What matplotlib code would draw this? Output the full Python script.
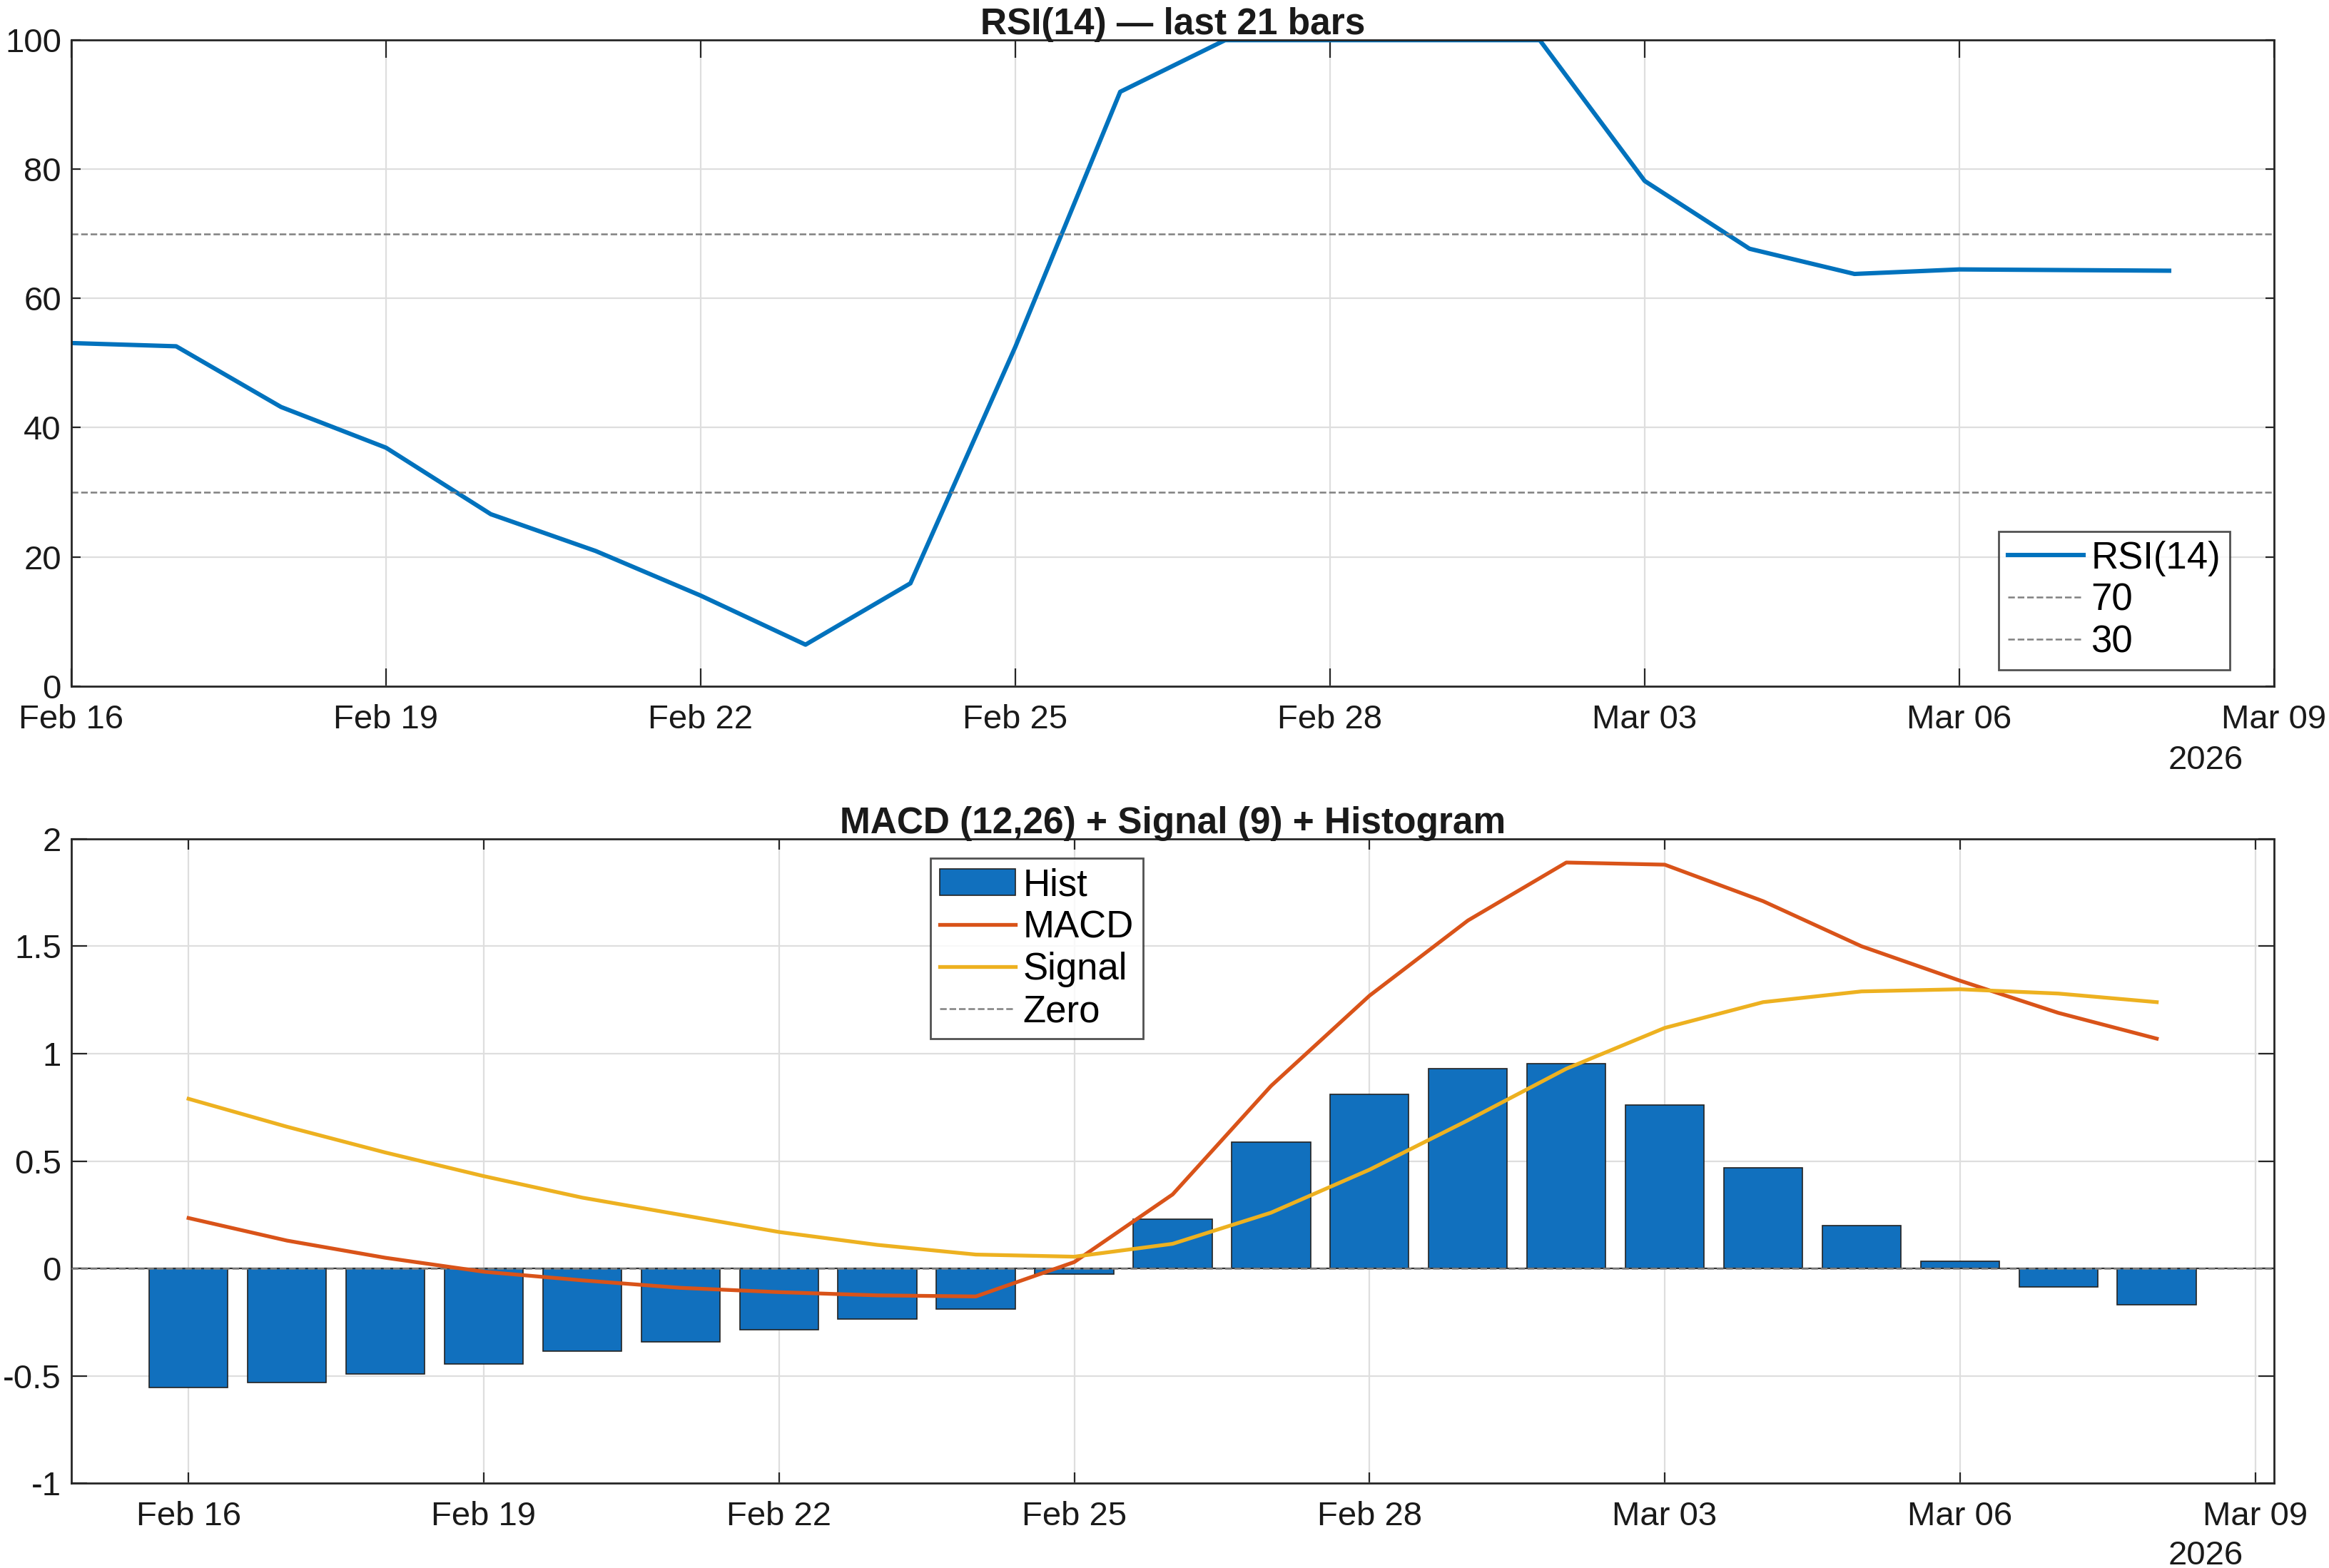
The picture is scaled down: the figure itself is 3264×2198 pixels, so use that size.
import pandas as pd
import matplotlib
matplotlib.use("Agg")
import matplotlib.pyplot as plt
import matplotlib.dates as mdates
from matplotlib.ticker import FuncFormatter

plt.rcParams['font.family'] = ['Liberation Sans', 'DejaVu Sans']
plt.rcParams['axes.unicode_minus'] = False

# ---- data ----
dates = pd.date_range('2026-02-16', '2026-03-08', freq='D')

rsi = [53.1, 52.6, 43.2, 36.9, 26.6, 20.9, 14.0, 6.4, 15.9, 52.5, 92.0,
       100.0, 100.0, 100.0, 100.0, 78.2, 67.7, 63.8, 64.5, 64.4, 64.3]

macd = [0.235, 0.13, 0.05, -0.015, -0.055, -0.09, -0.11, -0.125, -0.13, 0.03, 0.345,
        0.85, 1.27, 1.62, 1.89, 1.88, 1.71, 1.50, 1.34, 1.19, 1.07]
signal = [0.79, 0.66, 0.54, 0.43, 0.33, 0.25, 0.17, 0.11, 0.065, 0.055, 0.115,
          0.26, 0.46, 0.69, 0.93, 1.12, 1.24, 1.29, 1.30, 1.28, 1.24]
hist = [-0.555, -0.53, -0.49, -0.445, -0.385, -0.34, -0.285, -0.235, -0.19, -0.025, 0.23,
        0.59, 0.81, 0.93, 0.955, 0.76, 0.47, 0.20, 0.035, -0.085, -0.17]

BLUE = '#0072BD'
ORANGE = '#D95319'
YELLOW = '#EDB120'
GRAY = '#808080'
AXC = '#262626'
TXT = '#1a1a1a'

fig = plt.figure(figsize=(16.32, 10.99), dpi=200)
ax1 = fig.add_axes([0.0306, 0.5625, 0.9458, 0.4119])
ax2 = fig.add_axes([0.0306, 0.054, 0.9458, 0.411])


def style(ax, xlen, ylen):
    for s in ax.spines.values():
        s.set_color(AXC)
        s.set_linewidth(1.0)
    ax.grid(True, color='#dedede', linewidth=0.8)
    ax.set_axisbelow(True)
    ax.tick_params(axis='x', direction='in', length=xlen, width=0.8, colors=AXC,
                   top=True, labelsize=17, pad=9, labelcolor=TXT)
    ax.tick_params(axis='y', direction='in', length=ylen, width=0.8, colors=AXC,
                   right=True, labelsize=17, pad=5, labelcolor=TXT)
    ax.xaxis.set_major_locator(mdates.DayLocator(bymonthday=[16, 19, 22, 25, 28, 3, 6, 9]))
    ax.xaxis.set_major_formatter(mdates.DateFormatter('%b %d'))


legend_kw = dict(fontsize=19, frameon=True, fancybox=False, edgecolor=AXC,
                 borderpad=0.25, handlelength=2.0, handletextpad=0.2,
                 labelspacing=0.17, borderaxespad=0)

# ---- RSI ----
ax1.plot(dates, rsi, color=BLUE, linewidth=2.2, label='RSI(14)')
ax1.axhline(70, color=GRAY, linestyle='--', linewidth=0.9, label='70')
ax1.axhline(30, color=GRAY, linestyle='--', linewidth=0.9, label='30')
ax1.set_xlim(pd.Timestamp('2026-02-16'), pd.Timestamp('2026-03-09'))
ax1.set_ylim(0, 100)
ax1.set_yticks([0, 20, 40, 60, 80, 100])
style(ax1, 9, 4.5)
ax1.set_title('RSI(14) \u2014 last 21 bars', fontsize=18.5, fontweight='bold',
              color=TXT, pad=3)
fig.text(0.947, 0.5095, '2026', fontsize=17, color=TXT, ha='center', va='baseline')
leg1 = ax1.legend(loc='lower right', bbox_to_anchor=(0.98, 0.025), **legend_kw)
leg1.get_frame().set_linewidth(1.0)

# ---- MACD ----
ax2.bar(dates, hist, width=0.8, color='#1170BE', edgecolor='#222222',
        linewidth=0.6, label='Hist', zorder=2)
ax2.plot(dates, macd, color=ORANGE, linewidth=1.9, label='MACD', zorder=3)
ax2.plot(dates, signal, color=YELLOW, linewidth=1.9, label='Signal', zorder=3)
ax2.axhline(0, color='#333333', linewidth=0.8, zorder=2.5)
ax2.axhline(0, color=GRAY, linestyle='--', linewidth=0.9, label='Zero', zorder=2.6)
ax2.set_xlim(pd.Timestamp('2026-02-16') - pd.Timedelta(hours=28.6),
             pd.Timestamp('2026-03-08') + pd.Timedelta(hours=28.6))
ax2.set_ylim(-1, 2)
ax2.set_yticks([-1, -0.5, 0, 0.5, 1, 1.5, 2])
ax2.yaxis.set_major_formatter(FuncFormatter(lambda v, p: '%g' % v))
style(ax2, 5.5, 8)
ax2.set_title('MACD (12,26) + Signal (9) + Histogram', fontsize=18.5,
              fontweight='bold', color=TXT, pad=3)
fig.text(0.947, 0.0025, '2026', fontsize=17, color=TXT, ha='center', va='baseline')
h, l = ax2.get_legend_handles_labels()
order = [l.index(k) for k in ['Hist', 'MACD', 'Signal', 'Zero']]
leg2 = ax2.legend([h[i] for i in order], [l[i] for i in order],
                  loc='upper left', bbox_to_anchor=(0.39, 0.97), **legend_kw)
leg2.get_frame().set_linewidth(1.0)

fig.savefig('out.png', dpi=200)
